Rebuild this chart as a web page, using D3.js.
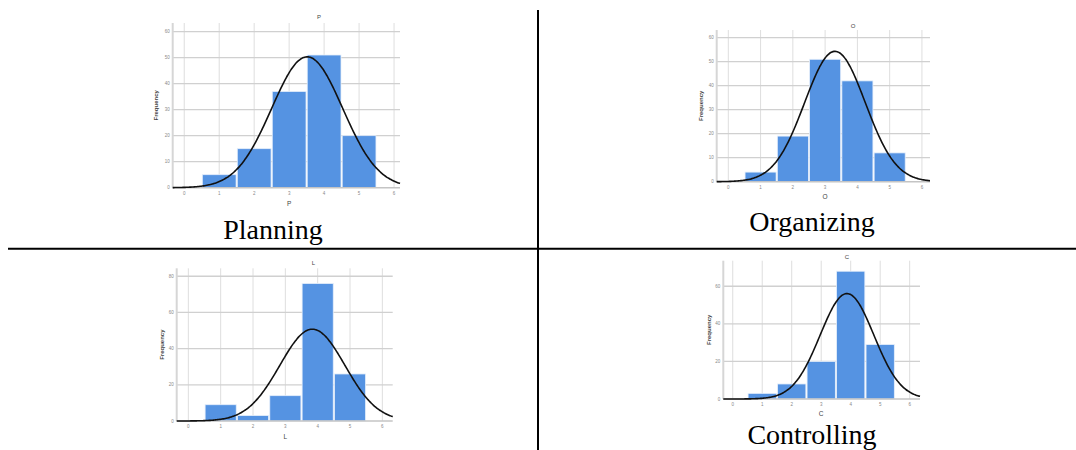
<!DOCTYPE html>
<html>
<head>
<meta charset="utf-8">
<script src="https://cdn.jsdelivr.net/npm/d3@7"></script>
<style>
  html, body { margin: 0; padding: 0; background: #fff; }
  svg { display: block; }
</style>
</head>
<body>
<svg id="chart" width="1076" height="450"></svg>
<script>
// ---------- data ----------
const categories = [1, 2, 3, 4, 5];
const xTickValues = [0, 1, 2, 3, 4, 5, 6];
const planningValues = [5, 15, 37, 51, 20];
const organizingValues = [4, 19, 51, 42, 12];
const leadingValues = [9, 3, 14, 76, 26];
const controllingValues = [3, 8, 20, 68, 29];
const planningYTicks = [0, 10, 20, 30, 40, 50, 60];
const organizingYTicks = [0, 10, 20, 30, 40, 50, 60];
const leadingYTicks = [0, 20, 40, 60, 80];
const controllingYTicks = [0, 20, 40, 60];
const panelTitles = ["P", "O", "L", "C"];
const captions = ["Planning", "Organizing", "", "Controlling"];
const yAxisTitle = "Frequency";

// ---------- layout (positions only) ----------
const panels = [
  { values: planningValues, yTicks: planningYTicks, title: panelTitles[0], caption: captions[0],
    xDom: [-0.33, 6.17], xRange: [172.7, 400], yDom: [0, 63.3], yRange: [187.7, 23],
    titleX: 319, titleY: 19, tickLabelY: 194.5, xTitleY: 206, freqX: 157.5, capX: 273, capY: 239 },
  { values: organizingValues, yTicks: organizingYTicks, title: panelTitles[1], caption: captions[1],
    xDom: [-0.36, 6.25], xRange: [716.7, 930], yDom: [0, 63.2], yRange: [181.7, 30],
    titleX: 853, titleY: 27.5, tickLabelY: 188.5, xTitleY: 199, freqX: 702.5, capX: 812, capY: 231 },
  { values: leadingValues, yTicks: leadingYTicks, title: panelTitles[2], caption: captions[2],
    xDom: [-0.36, 6.32], xRange: [176.7, 392.7], yDom: [0, 84.4], yRange: [421, 268.3],
    titleX: 313.5, titleY: 265, tickLabelY: 427.5, xTitleY: 439, freqX: 163.5, capX: 285, capY: 460 },
  { values: controllingValues, yTicks: controllingYTicks, title: panelTitles[3], caption: captions[3],
    xDom: [-0.32, 6.35], xRange: [723.3, 920], yDom: [0, 73.6], yRange: [399, 260.7],
    titleX: 847, titleY: 258.5, tickLabelY: 405.5, xTitleY: 415.5, freqX: 710.5, capX: 812, capY: 444 }
];

const svg = d3.select("#chart");
const barColor = "#5593e2";

function drawPanel(p) {
  const g = svg.append("g");
  const x = d3.scaleLinear().domain(p.xDom).range(p.xRange);
  const y = d3.scaleLinear().domain(p.yDom).range(p.yRange);
  const top = p.yRange[1], base = p.yRange[0], left = p.xRange[0], right = p.xRange[1];

  // vertical gridlines
  g.selectAll(".vg").data(xTickValues).enter().append("line")
    .attr("x1", d => x(d)).attr("x2", d => x(d))
    .attr("y1", top).attr("y2", base)
    .attr("stroke", "#dedede").attr("stroke-width", 1);
  // horizontal gridlines
  g.selectAll(".hg").data(p.yTicks.filter(d => d > 0)).enter().append("line")
    .attr("x1", left).attr("x2", right)
    .attr("y1", d => y(d)).attr("y2", d => y(d))
    .attr("stroke", "#d0d0d0").attr("stroke-width", 1.3);

  // bars
  g.selectAll(".bar").data(categories.map((c, i) => ({ c, v: p.values[i] })))
    .enter().append("rect")
    .attr("x", d => x(d.c - 0.5) + 0.6)
    .attr("width", d => x(d.c + 0.5) - x(d.c - 0.5) - 1.2)
    .attr("y", d => y(d.v))
    .attr("height", d => y(0) - y(d.v))
    .attr("fill", barColor)
    .attr("stroke", "#e6effb").attr("stroke-width", 0.8);

  // axes lines
  g.append("line").attr("x1", left).attr("x2", left).attr("y1", top).attr("y2", base)
    .attr("stroke", "#d6d6d6").attr("stroke-width", 2);
  g.append("line").attr("x1", left).attr("x2", right).attr("y1", base).attr("y2", base)
    .attr("stroke", "#c4c4c4").attr("stroke-width", 1.5);

  // normal curve fitted from the histogram counts
  const n = d3.sum(p.values);
  const mean = d3.sum(categories, (c, i) => c * p.values[i]) / n;
  const variance = d3.sum(categories, (c, i) => (c - mean) ** 2 * p.values[i]) / n;
  const sd = Math.sqrt(variance);
  const pts = d3.range(0, 201).map(k => {
    const xv = p.xDom[0] + (p.xDom[1] - p.xDom[0]) * k / 200;
    const dens = n / (sd * Math.sqrt(2 * Math.PI)) * Math.exp(-0.5 * ((xv - mean) / sd) ** 2);
    return [xv, dens];
  });
  g.append("path").datum(pts)
    .attr("d", d3.line().x(d => x(d[0])).y(d => y(d[1])).curve(d3.curveBasis))
    .attr("fill", "none").attr("stroke", "#111").attr("stroke-width", 1.6);

  // tick labels
  g.selectAll(".xt").data(xTickValues).enter().append("text")
    .attr("x", d => x(d)).attr("y", p.tickLabelY)
    .attr("text-anchor", "middle").attr("font-family", "Arial, Liberation Sans, sans-serif")
    .attr("font-size", 4.5).attr("fill", "#888").text(d => d);
  g.selectAll(".yt").data(p.yTicks).enter().append("text")
    .attr("x", left - 3).attr("y", d => y(d) + 1.6)
    .attr("text-anchor", "end").attr("font-family", "Arial, Liberation Sans, sans-serif")
    .attr("font-size", 4.5).attr("fill", "#888").text(d => d);

  // titles
  g.append("text").attr("x", p.titleX).attr("y", p.titleY)
    .attr("text-anchor", "middle").attr("font-family", "Arial, Liberation Sans, sans-serif")
    .attr("font-size", 6).attr("fill", "#444").text(p.title);
  g.append("text").attr("x", x(3)).attr("y", p.xTitleY)
    .attr("text-anchor", "middle").attr("font-family", "Arial, Liberation Sans, sans-serif")
    .attr("font-size", 6.5).attr("fill", "#444").text(p.title);
  g.append("text")
    .attr("transform", `translate(${p.freqX},${(top + base) / 2}) rotate(-90)`)
    .attr("text-anchor", "middle").attr("font-family", "Arial, Liberation Sans, sans-serif")
    .attr("font-size", 6).attr("font-weight", "bold").attr("fill", "#444").text(yAxisTitle);

  if (p.caption) {
    svg.append("text").attr("x", p.capX).attr("y", p.capY)
      .attr("text-anchor", "middle")
      .attr("font-family", "'Times New Roman', 'Liberation Serif', serif")
      .attr("font-size", 28).attr("fill", "#000").text(p.caption);
  }
}

panels.forEach(drawPanel);

// table dividers
svg.append("line").attr("x1", 538).attr("x2", 538).attr("y1", 10).attr("y2", 450)
  .attr("stroke", "#000").attr("stroke-width", 2);
svg.append("line").attr("x1", 8).attr("x2", 1076).attr("y1", 248.7).attr("y2", 248.7)
  .attr("stroke", "#000").attr("stroke-width", 2);
</script>
</body>
</html>
